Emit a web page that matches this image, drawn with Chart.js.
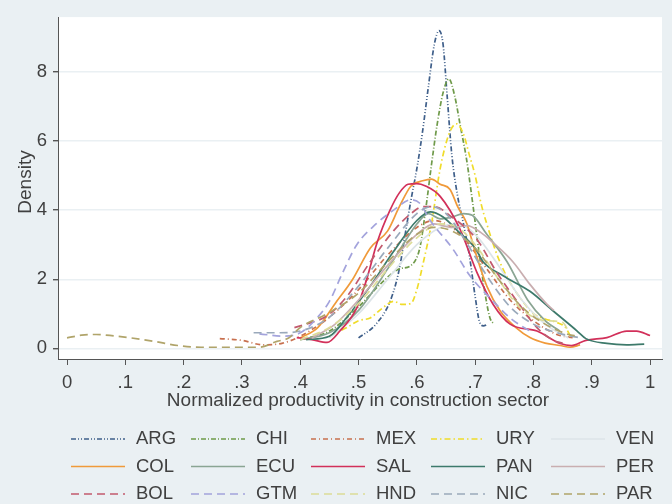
<!DOCTYPE html>
<html>
<head>
<meta charset="utf-8">
<script src="https://cdn.jsdelivr.net/npm/chart.js@4.4.1/dist/chart.umd.min.js"></script>
<style>
  html, body { margin: 0; padding: 0; background: #eaf0f3; }
  #wrap { width: 672px; height: 504px; position: relative; }
</style>
</head>
<body>
<div id="wrap"><canvas id="densityChart"></canvas></div>
<script>
// kernel density curves
var countries = ['ARG', 'CHI', 'MEX', 'URY', 'VEN', 'COL', 'ECU', 'SAL', 'PAN', 'PER', 'BOL', 'GTM', 'HND', 'NIC', 'PAR'];

var argX = [0.50, 0.53, 0.555, 0.57, 0.58, 0.59, 0.60, 0.61, 0.62, 0.63, 0.638, 0.645, 0.652, 0.66, 0.67, 0.68, 0.69, 0.70, 0.707, 0.714, 0.722];
var argY = [0.3, 0.7, 1.4, 2.3, 3.3, 4.3, 5.2, 6.3, 7.6, 8.8, 9.2, 8.8, 7.3, 5.6, 4.4, 3.6, 2.7, 1.5, 0.8, 0.65, 0.7];

var chiX = [0.40, 0.45, 0.50, 0.54, 0.57, 0.59, 0.605, 0.615, 0.625, 0.635, 0.645, 0.655, 0.665, 0.675, 0.685, 0.695, 0.705, 0.715, 0.725, 0.732];
var chiY = [0.25, 0.5, 1.2, 1.9, 2.3, 2.4, 2.9, 4.0, 5.3, 6.5, 7.4, 7.8, 7.3, 6.4, 5.5, 4.3, 3.0, 1.8, 0.9, 0.7];

var mexX = [0.262, 0.30, 0.336, 0.37, 0.40, 0.45, 0.50, 0.55, 0.60, 0.63, 0.65, 0.68, 0.72, 0.76, 0.80, 0.84, 0.87];
var mexY = [0.28, 0.23, 0.1, 0.15, 0.35, 0.9, 1.7, 2.7, 3.5, 3.7, 3.6, 3.2, 2.3, 1.4, 0.8, 0.4, 0.3];

var uryX = [0.45, 0.48, 0.50, 0.52, 0.54, 0.56, 0.575, 0.59, 0.60, 0.61, 0.625, 0.64, 0.655, 0.668, 0.68, 0.69, 0.70, 0.71, 0.72, 0.74, 0.76, 0.78, 0.80, 0.82, 0.84, 0.855, 0.865];
var uryY = [0.35, 0.6, 0.8, 0.88, 1.15, 1.36, 1.27, 1.3, 1.7, 2.4, 3.6, 5.2, 6.2, 6.5, 6.2, 5.6, 5.0, 4.2, 3.6, 2.6, 1.9, 1.4, 1.0, 0.85, 0.75, 0.6, 0.3];

var venX = [0.45, 0.50, 0.55, 0.60, 0.64, 0.67, 0.70, 0.74, 0.78, 0.82, 0.86];
var venY = [0.3, 1.0, 2.0, 3.0, 3.5, 3.6, 3.3, 2.4, 1.4, 0.7, 0.3];

var colX = [0.40, 0.43, 0.46, 0.49, 0.52, 0.55, 0.57, 0.59, 0.61, 0.625, 0.64, 0.657, 0.67, 0.686, 0.70, 0.72, 0.743, 0.77, 0.794, 0.82, 0.846, 0.863, 0.88];
var colY = [0.3, 0.6, 1.3, 2.0, 2.9, 3.4, 4.1, 4.7, 4.85, 4.9, 4.75, 4.6, 4.1, 3.6, 2.8, 1.8, 1.08, 0.6, 0.31, 0.15, 0.08, 0.03, 0.1];

var ecuX = [0.40, 0.45, 0.50, 0.55, 0.58, 0.60, 0.62, 0.64, 0.66, 0.68, 0.695, 0.72, 0.755, 0.79, 0.82, 0.845];
var ecuY = [0.25, 0.45, 1.1, 2.3, 3.1, 3.6, 3.9, 3.75, 3.8, 3.9, 3.85, 3.3, 2.5, 1.4, 0.8, 0.5];

var salX = [0.394, 0.42, 0.446, 0.468, 0.497, 0.514, 0.532, 0.554, 0.57, 0.585, 0.60, 0.615, 0.64, 0.674, 0.703, 0.731, 0.76, 0.806, 0.846, 0.865, 0.89, 0.926, 0.96, 0.977, 1.0];
var salY = [0.31, 0.25, 0.17, 0.5, 1.17, 2.0, 3.07, 4.0, 4.5, 4.75, 4.77, 4.7, 4.4, 3.45, 2.2, 1.27, 0.7, 0.5, 0.14, 0.08, 0.23, 0.31, 0.5, 0.5, 0.37];

var panX = [0.41, 0.45, 0.48, 0.52, 0.56, 0.60, 0.623, 0.645, 0.67, 0.70, 0.714, 0.748, 0.794, 0.834, 0.875, 0.89, 0.926, 0.96, 0.99];
var panY = [0.25, 0.35, 0.9, 1.8, 2.8, 3.7, 3.95, 3.8, 3.4, 2.9, 2.5, 2.1, 1.65, 1.08, 0.5, 0.28, 0.14, 0.1, 0.12];

var perX = [0.42, 0.46, 0.50, 0.55, 0.60, 0.63, 0.66, 0.686, 0.71, 0.73, 0.765, 0.794, 0.823, 0.835];
var perY = [0.3, 0.7, 1.4, 2.4, 3.3, 3.6, 3.5, 3.55, 3.35, 3.07, 2.5, 1.85, 1.28, 1.1];

var bolX = [0.39, 0.42, 0.446, 0.48, 0.52, 0.56, 0.59, 0.61, 0.63, 0.66, 0.703, 0.737, 0.772, 0.806, 0.834, 0.85];
var bolY = [0.6, 0.75, 0.94, 1.5, 2.5, 3.4, 3.9, 4.1, 4.1, 3.8, 3.15, 2.2, 1.36, 0.6, 0.23, 0.15];

var gtmX = [0.33, 0.37, 0.40, 0.43, 0.45, 0.473, 0.497, 0.53, 0.56, 0.59, 0.605, 0.623, 0.662, 0.691, 0.726, 0.76, 0.794, 0.80];
var gtmY = [0.42, 0.35, 0.45, 0.9, 1.36, 2.2, 3.0, 3.6, 4.0, 4.3, 4.2, 3.7, 2.87, 2.1, 1.45, 0.88, 0.5, 0.45];

var hndX = [0.40, 0.45, 0.50, 0.55, 0.60, 0.64, 0.67, 0.70, 0.74, 0.77, 0.79, 0.82, 0.85, 0.86];
var hndY = [0.25, 0.6, 1.3, 2.3, 3.2, 3.6, 3.5, 3.0, 2.0, 1.3, 1.0, 0.8, 0.75, 0.5];

var nicX = [0.32, 0.365, 0.40, 0.45, 0.50, 0.55, 0.60, 0.625, 0.65, 0.68, 0.72, 0.76, 0.80, 0.84, 0.88];
var nicY = [0.45, 0.45, 0.5, 0.9, 1.8, 2.9, 3.9, 4.1, 3.9, 3.2, 2.1, 1.2, 0.7, 0.45, 0.3];

var parX = [0.0, 0.025, 0.05, 0.08, 0.11, 0.15, 0.19, 0.23, 0.28, 0.33, 0.36, 0.38, 0.40, 0.446, 0.50, 0.55, 0.60, 0.63, 0.66, 0.70, 0.74, 0.78, 0.82, 0.86, 0.875];
var parY = [0.3, 0.38, 0.4, 0.36, 0.3, 0.2, 0.08, 0.03, 0.03, 0.03, 0.2, 0.3, 0.6, 1.0, 1.6, 2.5, 3.3, 3.5, 3.4, 2.9, 2.0, 1.2, 0.7, 0.4, 0.35];

var xTicks = [0, 0.1, 0.2, 0.3, 0.4, 0.5, 0.6, 0.7, 0.8, 0.9, 1];
var yTicks = [0, 2, 4, 6, 8];

var seriesX = [argX, chiX, mexX, uryX, venX, colX, ecuX, salX, panX, perX, bolX, gtmX, hndX, nicX, parX];
var seriesY = [argY, chiY, mexY, uryY, venY, colY, ecuY, salY, panY, perY, bolY, gtmY, hndY, nicY, parY];

var colors = ['#3f5f8a', '#6f9a4a', '#c8704f', '#f0dc2a', '#dce4e8', '#f09a3a', '#8aa593', '#d2305a',
              '#3d7a6b', '#c9aeb0', '#c25a6e', '#a3a3dc', '#dcdc98', '#9aa9bb', '#b0a46a'];
var dashes = [[5, 2, 1, 2, 1, 2], [5, 2, 1, 2], [5, 3, 1, 3], [6, 3, 1.5, 3], [], [], [], [], [], [],
              [8, 5], [8, 5], [8, 5], [8, 5], [8, 5]];

var fontFamily = "'Liberation Sans', Arial, sans-serif";

var datasets = countries.map(function (name, i) {
    return {
        label: name,
        data: seriesX[i].map(function (x, j) { return { x: x, y: seriesY[i][j] }; }),
        borderColor: colors[i],
        borderWidth: 1.7,
        borderDash: dashes[i],
        pointRadius: 0,
        fill: false,
        cubicInterpolationMode: 'monotone',
        order: countries.length - i
    };
});

var stataLook = {
    id: 'stataLook',
    beforeDraw: function (chart) {
        var c = chart.ctx, a = chart.chartArea;
        c.save();
        c.fillStyle = '#eaf0f3';
        c.fillRect(0, 0, chart.width, chart.height);
        c.fillStyle = '#ffffff';
        c.fillRect(a.left, a.top, a.right - a.left, a.bottom - a.top);
        c.restore();
    },
    afterDraw: function (chart) {
        var c = chart.ctx, a = chart.chartArea;
        c.save();
        c.fillStyle = '#404040';
        c.font = '19px ' + fontFamily;
        c.textAlign = 'center';
        c.textBaseline = 'middle';
        c.fillText('Normalized productivity in construction sector', 358, 401);
        c.save();
        c.translate(26, 182);
        c.rotate(-Math.PI / 2);
        c.fillText('Density', 0, 0);
        c.restore();

        // legend: 5 columns x 3 rows
        c.font = '18.5px ' + fontFamily;
        c.textAlign = 'left';
        chart.data.datasets.forEach(function (ds, i) {
            var col = i % 5, row = Math.floor(i / 5);
            var x0 = 71 + col * 120, y = 439 + row * 27.5;
            c.strokeStyle = ds.borderColor;
            c.lineWidth = ds.borderWidth;
            c.setLineDash(ds.borderDash);
            c.beginPath();
            c.moveTo(x0, y);
            c.lineTo(x0 + 54, y);
            c.stroke();
            c.setLineDash([]);
            c.fillText(ds.label, x0 + 65, y);
        });
        c.restore();
    }
};

var ctx = document.getElementById('densityChart').getContext('2d');
var densityChart = new Chart(ctx, {
    type: 'line',
    data: { datasets: datasets },
    plugins: [stataLook],
    options: {
        responsive: true,
        maintainAspectRatio: false,
        animation: false,
        layout: { padding: { top: 10, right: 10, left: 0, bottom: 0 } },
        plugins: {
            legend: { display: false },
            tooltip: { enabled: false }
        },
        scales: {
            x: {
                type: 'linear',
                min: -0.0155,
                max: 1.0205,
                afterBuildTicks: function (s) { s.ticks = xTicks.map(function (v) { return { value: v }; }); },
                afterFit: function (s) { s.height = 145; },
                ticks: {
                    color: '#404040',
                    padding: 7,
                    maxRotation: 0,
                    font: { family: fontFamily, size: 18.5 },
                    callback: function (v) {
                        if (v === 0) return '0';
                        if (v === 1) return '1';
                        return '.' + Math.round(v * 10);
                    }
                },
                grid: { drawOnChartArea: false, tickLength: 6, tickColor: '#555555' },
                border: { color: '#555555', width: 1 }
            },
            y: {
                type: 'linear',
                min: -0.31,
                max: 9.59,
                afterBuildTicks: function (s) { s.ticks = yTicks.map(function (v) { return { value: v }; }); },
                afterFit: function (s) { s.width = 58; },
                ticks: {
                    color: '#404040',
                    padding: 6,
                    font: { family: fontFamily, size: 18.5 }
                },
                grid: { color: '#eaf0f3', lineWidth: 1.4, tickLength: 5, tickColor: '#555555' },
                border: { color: '#555555', width: 1 }
            }
        }
    }
});
</script>
</body>
</html>
